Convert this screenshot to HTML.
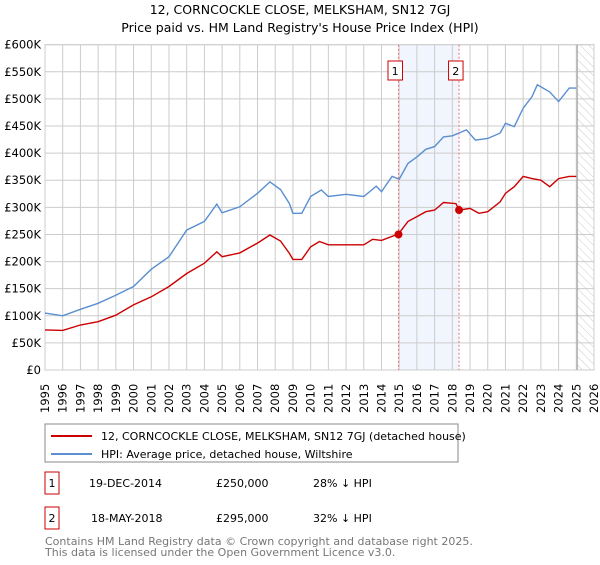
<!DOCTYPE html>
<html><head><meta charset="utf-8"><style>
body{margin:0;background:#fff;font-family:"Liberation Sans","DejaVu Sans",sans-serif;}
svg text{font-family:"DejaVu Sans","Liberation Sans",sans-serif;}
</style></head><body>
<svg id="chart" width="600" height="560" viewBox="0 0 600 560" xmlns="http://www.w3.org/2000/svg">
<defs><pattern id="hatch" width="6" height="6" patternUnits="userSpaceOnUse" patternTransform="rotate(-45)"><line x1="0" y1="0" x2="0" y2="6" stroke="#ccc" stroke-width="1"/></pattern></defs>
<text x="300" y="14" text-anchor="middle" font-size="12.5">12, CORNCOCKLE CLOSE, MELKSHAM, SN12 7GJ</text>
<text x="300" y="32" text-anchor="middle" font-size="12.5">Price paid vs. HM Land Registry's House Price Index (HPI)</text>
<g id="grid"></g>
<g id="marks"></g>
<g id="ylabels"></g>
<g id="xlabels"></g>
<rect x="45" y="424" width="413" height="38" fill="#fff" stroke="#888"/>
<line x1="51" y1="436" x2="92" y2="436" stroke="#cc0000" stroke-width="2"/>
<text x="101" y="440" font-size="11">12, CORNCOCKLE CLOSE, MELKSHAM, SN12 7GJ (detached house)</text>
<line x1="51" y1="454" x2="92" y2="454" stroke="#5b8fd1" stroke-width="2"/>
<text x="101" y="458" font-size="11">HPI: Average price, detached house, Wiltshire</text>
<g font-size="11">
<rect x="45" y="472" width="14" height="22" fill="#fff" stroke="#cc0000"/>
<text x="52" y="487" text-anchor="middle">1</text>
<text x="89" y="487">19-DEC-2014</text>
<text x="216" y="487">£250,000</text>
<text x="313" y="487">28% ↓ HPI</text>
</g>
<g font-size="11">
<rect x="45" y="507" width="14" height="22" fill="#fff" stroke="#cc0000"/>
<text x="52" y="522" text-anchor="middle">2</text>
<text x="91" y="522">18-MAY-2018</text>
<text x="216" y="522">£295,000</text>
<text x="313" y="522">32% ↓ HPI</text>
</g>
<text x="45" y="545" font-size="11" fill="#777">Contains HM Land Registry data © Crown copyright and database right 2025.</text>
<text x="45" y="556" font-size="11" fill="#777">This data is licensed under the Open Government Licence v3.0.</text>
</svg>
<script>
const hpiYears=[1995,1996,1997,1998,1999,2000,2001,2002,2003,2004,2004.7,2005,2006,2007,2007.7,2008.3,2008.8,2009,2009.5,2010,2010.6,2011,2012,2013,2013.7,2014,2014.6,2015,2015.5,2016,2016.5,2017,2017.5,2018,2018.8,2019.3,2020,2020.7,2021,2021.5,2022,2022.5,2022.8,2023.5,2024,2024.6,2025];
const hpiValues=[105,100,112,123,138,154,186,209,258,274,306,290,301,326,347,333,307,289,289,320,332,320,324,320,339,329,357,352,381,393,407,412,430,432,443,424,427,437,455,449,483,504,526,513,495,520,520];
const priceYears=[1995,1996,1997,1998,1999,2000,2001,2002,2003,2004,2004.7,2005,2006,2007,2007.7,2008.3,2008.8,2009,2009.5,2010,2010.5,2011,2012,2013,2013.5,2014,2014.96,2015.5,2016,2016.5,2017,2017.5,2018.2,2018.38,2019,2019.5,2020,2020.7,2021,2021.5,2022,2022.5,2023,2023.5,2024,2024.6,2025];
const priceValues=[74,73,83,89,101,120,135,154,178,197,218,209,216,234,249,238,215,204,204,227,237,231,231,231,241,239,251,274,283,292,295,309,307,295,298,289,292,310,326,338,357,353,350,338,353,357,357];
const saleYears=[2014.96,2018.38];
const saleValues=[250,295];
const saleLabels=["1","2"];
const yTicks=[0,50,100,150,200,250,300,350,400,450,500,550,600];
const yTickLabels=["£0","£50K","£100K","£150K","£200K","£250K","£300K","£350K","£400K","£450K","£500K","£550K","£600K"];
const xTicks=[1995,1996,1997,1998,1999,2000,2001,2002,2003,2004,2005,2006,2007,2008,2009,2010,2011,2012,2013,2014,2015,2016,2017,2018,2019,2020,2021,2022,2023,2024,2025,2026];
const NS="http://www.w3.org/2000/svg";
const X0=45,X1=594,Y0=370,Y1=44.7;
const xs=y=>X0+(y-1995)/(2026-1995)*(X1-X0);
const ys=v=>Y0-v/600*(Y0-Y1);
function mk(t,a,p){const e=document.createElementNS(NS,t);for(const k in a)e.setAttribute(k,a[k]);p.appendChild(e);return e;}
const grid=document.getElementById('grid'),marks=document.getElementById('marks');
mk('rect',{x:X0,y:Y1,width:X1-X0,height:Y0-Y1,fill:'#fff',stroke:'#ccc'},grid);
const band=mk('rect',{x:xs(saleYears[0]),y:Y1,width:xs(saleYears[1])-xs(saleYears[0]),height:Y0-Y1,fill:'#eef3fc',opacity:0.8},grid);


const hat=mk('rect',{x:xs(2025.05),y:Y1,width:X1-xs(2025.05),height:Y0-Y1,fill:'url(#hatch)'},grid);


yTicks.forEach((v,i)=>{
 mk('line',{x1:X0,x2:X1,y1:ys(v),y2:ys(v),stroke:'#ccc'},grid);
 const t=mk('text',{x:41,y:ys(v)+4,'text-anchor':'end','font-size':'11.5'},document.getElementById('ylabels'));
 t.textContent=yTickLabels[i];
 
 
});
xTicks.forEach(y=>{
 mk('line',{x1:xs(y),x2:xs(y),y1:Y1,y2:Y0,stroke:'#ccc'},grid);
 const t=mk('text',{x:0,y:0,'font-size':'11.5',transform:`translate(${xs(y)+4},${413}) rotate(-90)`},document.getElementById('xlabels'));
 t.textContent=y;
 
 
});
mk('line',{x1:xs(2025.05),x2:xs(2025.05),y1:Y1,y2:Y0,stroke:'#999'},grid);
function line(xa,va,col,name){
 const p=mk('path',{d:xa.map((x,i)=>(i?'L':'M')+xs(x).toFixed(1)+','+ys(va[i]).toFixed(1)).join(''),fill:'none',stroke:col,'stroke-width':1.4},marks);
 
 
}
line(hpiYears,hpiValues,'#5b8fd1','hpi-line');
line(priceYears,priceValues,'#cc0000','price-paid-line');
saleYears.forEach((y,i)=>{
 mk('line',{x1:xs(y),x2:xs(y),y1:Y1,y2:Y0,stroke:'#f07070','stroke-dasharray':'2,2'},marks);
 const d=mk('circle',{cx:xs(y),cy:ys(saleValues[i]),r:4,fill:'#cc0000'},marks);
 
 
 mk('rect',{x:xs(y)-10.5,y:61,width:14.5,height:19,fill:'#fff',stroke:'#cc0000'},marks);
 const t=mk('text',{x:xs(y)-3.3,y:75,'text-anchor':'middle','font-size':'11'},marks);
 t.textContent=saleLabels[i];
 
 
});
</script>
</body></html>
